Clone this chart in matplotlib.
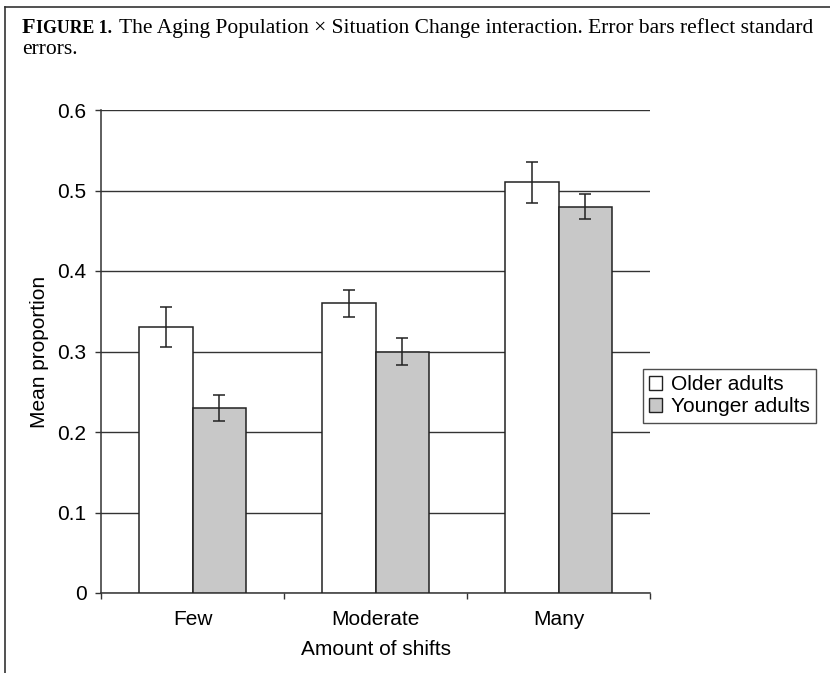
import matplotlib
matplotlib.use("Agg")
import matplotlib.pyplot as plt
import numpy as np
from matplotlib.lines import Line2D
from matplotlib.patches import Patch

categories = ["Few", "Moderate", "Many"]
older = [0.33, 0.36, 0.51]
older_err = [0.025, 0.017, 0.025]
younger = [0.23, 0.30, 0.48]
younger_err = [0.016, 0.017, 0.016]
yticks = [0, 0.1, 0.2, 0.3, 0.4, 0.5, 0.6]
ytick_labels = ["0", "0.1", "0.2", "0.3", "0.4", "0.5", "0.6"]

plt.rcParams["font.family"] = ["Liberation Sans", "DejaVu Sans"]
fs = 15

fig = plt.figure(figsize=(8.3, 6.73), dpi=100)
ax = fig.add_axes([101 / 830, 1 - 593 / 673, 549 / 830, 483 / 673])

x = np.arange(len(categories))
w = 0.29
edge = "#222222"
ax.bar(x - w / 2, older, w, color="white", edgecolor=edge, linewidth=1.1, zorder=3)
ax.bar(x + w / 2, younger, w, color="#c8c8c8", edgecolor=edge, linewidth=1.1, zorder=3)
ax.errorbar(x - w / 2, older, yerr=older_err, fmt="none", ecolor=edge,
            elinewidth=1.1, capsize=4, capthick=1.1, zorder=4)
ax.errorbar(x + w / 2, younger, yerr=younger_err, fmt="none", ecolor=edge,
            elinewidth=1.1, capsize=4, capthick=1.1, zorder=4)

ax.set_xlim(-0.5, len(categories) - 0.5)
ax.set_ylim(0, 0.6)
ax.set_yticks(yticks)
ax.set_yticklabels(ytick_labels)
ax.yaxis.grid(True, color="#333333", linewidth=1.0, zorder=0)
ax.set_axisbelow(True)

# category labels centred, tick marks on the boundaries
ax.set_xticks(np.arange(-0.5, len(categories)))
ax.set_xticklabels([])
ax.set_xticks(x, minor=True)
ax.set_xticklabels(categories, minor=True)
ax.tick_params(axis="x", which="minor", length=0, pad=12, labelsize=fs)
ax.tick_params(axis="x", which="major", length=4.5, width=1, color="#333333", direction="out")
ax.tick_params(axis="y", length=4.5, width=1, color="#333333", direction="out",
               labelsize=fs, pad=6)

for s in ["top", "right"]:
    ax.spines[s].set_visible(False)
for s in ["left", "bottom"]:
    ax.spines[s].set_color("#333333")
    ax.spines[s].set_linewidth(1.1)

ax.set_xlabel("Amount of shifts", fontsize=fs, labelpad=8)
ax.set_ylabel("Mean proportion", fontsize=fs, labelpad=6)

handles = [Patch(facecolor="white", edgecolor=edge, linewidth=1),
           Patch(facecolor="#c8c8c8", edgecolor=edge, linewidth=1)]
leg = fig.legend(handles, ["Older adults", "Younger adults"],
                 loc="upper left", bbox_to_anchor=(643 / 830, 1 - 369 / 673),
                 fontsize=fs, fancybox=False, edgecolor="#222222",
                 handlelength=0.6, handleheight=0.6, handletextpad=0.45,
                 borderpad=0.3, labelspacing=0.15, borderaxespad=0)
leg.get_frame().set_linewidth(1.0)

# frame around the figure (top and left)
fig.add_artist(Line2D([5 / 830, 1], [1 - 7 / 673, 1 - 7 / 673],
                      transform=fig.transFigure, color="#333333", lw=1.2))
fig.add_artist(Line2D([5 / 830, 5 / 830], [0, 1 - 7 / 673],
                      transform=fig.transFigure, color="#333333", lw=1.2))

# caption
serif = ["Liberation Serif", "DejaVu Serif"]
y1 = 1 - 33 / 673
t = fig.text(22 / 830, y1, "F", fontsize=16, fontweight="bold", family=serif, va="baseline")
fig.canvas.draw()
r = fig.canvas.get_renderer()
bb = t.get_window_extent(r)
t2 = fig.text(bb.x1 / 830, y1, "IGURE 1.", fontsize=12.8, fontweight="bold",
              family=serif, va="baseline")
bb2 = t2.get_window_extent(r)
fig.text(bb2.x1 / 830 + 7 / 830, y1,
         "The Aging Population \u00d7 Situation Change interaction. Error bars reflect standard",
         fontsize=15.5, family=serif, va="baseline")
fig.text(22 / 830, 1 - 54 / 673, "errors.", fontsize=15.5, family=serif, va="baseline")

fig.savefig("out.png", dpi=100)
